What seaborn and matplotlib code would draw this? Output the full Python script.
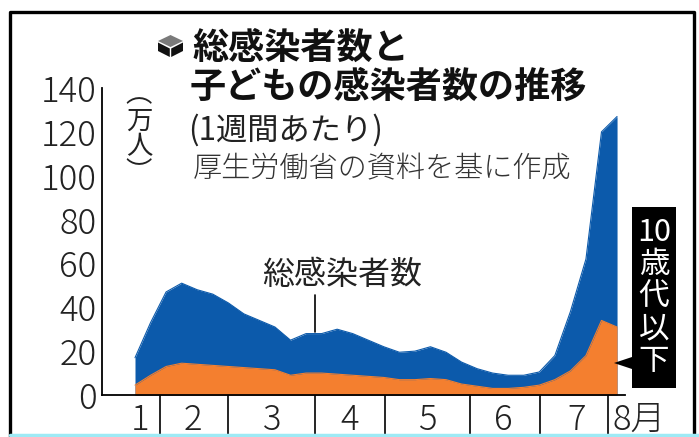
import matplotlib
matplotlib.use("Agg")
import matplotlib.pyplot as plt
import seaborn as sns
import numpy as np
import pandas as pd
from matplotlib.patches import Polygon, Rectangle
from matplotlib.lines import Line2D

# ---------------- data ----------------
weeks = list(range(32))
total = [17, 33, 47, 51, 48, 46, 42, 37, 34, 31, 25, 28, 28, 30, 28, 25,
         22, 19.5, 20, 22, 19.5, 15, 12, 10, 9, 9, 10.5, 18, 38, 62, 120, 127]
kids = [4.5, 9, 13, 14.5, 14, 13.5, 13, 12.5, 12, 11.5, 9, 10, 10, 9.5, 9, 8.5,
        8, 7, 7, 7.5, 7, 5, 4, 3, 3, 3.5, 4.5, 7, 11, 18, 34, 31]
month_bounds = [1.61, 5.98, 11.58, 16.08, 21.54, 26.05, 30.44]
month_labels = ["1", "2", "3", "4", "5", "6", "7", "8月"]
month_label_pos = [0.32, 3.73, 8.85, 13.8, 18.8, 23.7, 28.4, 30.7]
yticks = [0, 20, 40, 60, 80, 100, 120, 140]

df = pd.DataFrame({"week": weeks, "total": total, "kids": kids})

BLUE = "#0c5aab"
ORANGE = "#f47f2f"

sns.set_theme(style="white")
plt.rcParams["font.family"] = ["Noto Sans CJK JP", "DejaVu Sans"]

W, H = 699, 437
fig = plt.figure(figsize=(W / 100, H / 100), dpi=100)


def fx(px):
    return px / W


def fy(py):
    return 1 - py / H


# axes: x from px 102 to 625, y 0 at px395, 140 at px88
ax = fig.add_axes([fx(102), fy(395), (625 - 102) / W, (395 - 88) / H])
sx = 15.55
ax.set_xlim((102 - 135) / sx, (625 - 135) / sx)
ax.set_ylim(0, 140)

ax.fill_between(df["week"], 0, df["total"], color=BLUE, lw=0)
ax.fill_between(df["week"], 0, df["kids"], color=ORANGE, lw=0)
sns.lineplot(data=df, x="week", y="total", ax=ax, color=BLUE, lw=0.8)
sns.lineplot(data=df, x="week", y="kids", ax=ax, color=ORANGE, lw=0.8)

for s in ["top", "right"]:
    ax.spines[s].set_visible(False)
for s in ["left", "bottom"]:
    ax.spines[s].set_color("black")
    ax.spines[s].set_linewidth(1.3)

ax.set_yticks(yticks)
ax.set_yticklabels([str(v) for v in yticks])
ax.tick_params(axis="y", direction="in", length=9, width=1.3, color="black",
               pad=4, labelsize=25, labelcolor="#222222")
for t in ax.get_yticklabels():
    t.set_fontweight("light")
ax.tick_params(axis="x", length=0)
ax.set_xticks([])
ax.set_xlabel("")
ax.set_ylabel("")
ax.patch.set_alpha(0)

# month separators extending below axis
trans = ax.get_xaxis_transform()
ax.vlines(month_bounds, -40 / 307, 0, transform=trans, colors="black",
          lw=1.2, clip_on=False)
for pos, lab in zip(month_label_pos, month_labels):
    ha = "left" if lab.endswith("月") else "center"
    ax.text(pos, -7 / 307, lab, transform=trans, ha=ha, va="top",
            fontsize=25, fontweight="light", color="#222222", clip_on=False)

# leader line for total label
ax.plot([11.58, 11.58], [28.7, 45.6], color="black", lw=1.2)
fig.text(fx(262), fy(275), "総感染者数", fontsize=23, ha="left", va="center",
         color="#222222")

# titles
fig.text(fx(192), fy(48), "総感染者数と", fontsize=26, fontweight="bold",
         ha="left", va="center", color="#111111")
fig.text(fx(190), fy(87), "子どもの感染者数の推移", fontsize=26,
         fontweight="bold", ha="left", va="center", color="#111111")
fig.text(fx(188), fy(130), "(1週間あたり)", fontsize=22.5, ha="left",
         va="center", color="#222222")
fig.text(fx(193), fy(169), "厚生労働省の資料を基に作成", fontsize=21,
         fontweight="light", ha="left", va="center", color="#333333")

# cube icon
def P(pts, color):
    fig.patches.append(Polygon([(fx(x), fy(y)) for x, y in pts], closed=True,
                               transform=fig.transFigure, facecolor=color,
                               edgecolor="none"))

P([(158, 41), (170.5, 35), (183, 41), (170.5, 47)], "#7a7a7a")
P([(158, 42.5), (169.8, 48.5), (169.8, 57), (158, 51)], "#111111")
P([(171.2, 48.5), (183, 42.5), (183, 51), (171.2, 57)], "#111111")

# unit label (vertical)
fig.text(fx(139), fy(134), "︵\n万\n人\n︶", fontsize=19, ha="center",
         va="center", linespacing=0.95, color="#222222")

# black callout box
fig.patches.append(Rectangle((fx(632), fy(388)), (676 - 632) / W,
                             (388 - 207) / H, transform=fig.transFigure,
                             facecolor="black", edgecolor="none"))
P([(632, 357), (632, 369), (614, 363)], "black")
fig.text(fx(654), fy(297), "10\n歳\n代\n以\n下", fontsize=22, ha="center",
         va="center", linespacing=1.05, color="white")

# outer frame
fig.lines.append(Line2D([fx(10), fx(10), fx(694), fx(694)],
                        [fy(437), fy(12), fy(12), fy(437)],
                        transform=fig.transFigure, color="black", lw=2.4))
fig.lines.append(Line2D([fx(10), fx(699)], [fy(435), fy(435)],
                        transform=fig.transFigure, color="#9eeaf5", lw=2.5))

fig.savefig("out.png", dpi=100)
